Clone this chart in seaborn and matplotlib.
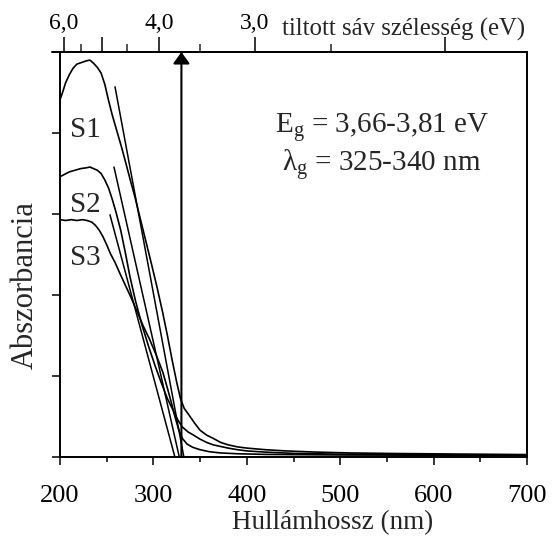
import numpy as np
import pandas as pd
import matplotlib
matplotlib.use("Agg")
import matplotlib.pyplot as plt
import seaborn as sns
from matplotlib.ticker import FixedLocator, FixedFormatter, MultipleLocator, NullFormatter

# ---------------- data ----------------
s1_wl = [200, 203, 206, 210, 214, 218, 223, 228, 232, 236, 240, 244, 248, 252, 256, 261, 266, 270,
         275, 280, 286, 292, 298, 304, 310, 315, 320, 325, 329, 333, 338, 344, 350, 357, 364, 372,
         380, 390, 400, 420, 440, 470, 510, 560, 620, 700]
s1_abs = [4.41, 4.51, 4.62, 4.72, 4.80, 4.85, 4.87, 4.89, 4.90, 4.86, 4.81, 4.74, 4.60, 4.40, 4.22,
          4.02, 3.82, 3.65, 3.43, 3.22, 2.94, 2.66, 2.38, 2.09, 1.78, 1.50, 1.20, 0.92, 0.72, 0.60,
          0.52, 0.42, 0.33, 0.27, 0.23, 0.18, 0.15, 0.125, 0.11, 0.09, 0.076, 0.062, 0.05, 0.043,
          0.037, 0.03]

s2_wl = [200, 205, 210, 216, 222, 228, 232, 236, 240, 244, 248, 252, 256, 260, 265, 270, 275, 281,
         288, 295, 302, 309, 315, 321, 326, 331, 337, 343, 350, 357, 364, 372, 380, 390, 400, 420,
         450, 500, 600, 700]
s2_abs = [3.46, 3.49, 3.52, 3.54, 3.56, 3.57, 3.58, 3.56, 3.54, 3.50, 3.42, 3.32, 3.18, 3.02, 2.80,
          2.52, 2.22, 1.92, 1.62, 1.36, 1.12, 0.90, 0.72, 0.58, 0.46, 0.37, 0.31, 0.27, 0.22, 0.18,
          0.15, 0.13, 0.11, 0.09, 0.075, 0.06, 0.045, 0.035, 0.028, 0.022]

s3_wl = [200, 206, 212, 218, 224, 229, 234, 238, 242, 246, 250, 254, 259, 264, 270, 276, 282, 289,
         296, 303, 310, 315, 319, 323, 327, 331, 336, 342, 350, 360, 372, 390, 420, 500, 600, 700]
s3_abs = [2.93, 2.92, 2.93, 2.92, 2.93, 2.92, 2.90, 2.86, 2.80, 2.72, 2.62, 2.51, 2.40, 2.27, 2.12,
          1.97, 1.81, 1.62, 1.45, 1.26, 1.05, 0.85, 0.68, 0.50, 0.34, 0.23, 0.16, 0.12, 0.09, 0.065,
          0.05, 0.04, 0.032, 0.025, 0.022, 0.02]

series_names = ["S1", "S2", "S3"]
tangent_wl_start = [258.9, 257.8, 253.5]
tangent_abs_start = [4.57, 3.58, 2.99]
tangent_wl_end = [332.6, 327.7, 323.0]
gap_wavelength = 330

energy_major = [6.0, 5.0, 4.0, 3.0, 2.0]
energy_labels = ["6,0", "", "4,0", "3,0", ""]
energy_minor = [5.5, 4.5, 3.5, 2.5]
HC = 1225.0

x_ticks = [200, 300, 400, 500, 600, 700]

# ---------------- style ----------------
sns.set_theme(style="ticks")
plt.rcParams["font.family"] = ["Liberation Serif", "DejaVu Serif"]
plt.rcParams["mathtext.fontset"] = "custom"
plt.rcParams["mathtext.rm"] = "Liberation Serif"
plt.rcParams["mathtext.it"] = "Liberation Serif:italic"

fig = plt.figure(figsize=(5.52, 5.42), dpi=100)
ax = fig.add_axes([60 / 552, 85 / 542, 467 / 552, 405 / 542])

frames = []
for name, wl, ab in zip(series_names, [s1_wl, s2_wl, s3_wl], [s1_abs, s2_abs, s3_abs]):
    frames.append(pd.DataFrame({"wl": wl, "abs": ab, "sample": name}))
df = pd.concat(frames, ignore_index=True)

for name in series_names:
    sub = df[df["sample"] == name]
    sns.lineplot(data=sub, x="wl", y="abs", ax=ax, color="black", lw=1.2,
                 estimator=None, sort=False, legend=False)

for w0, a0, w1 in zip(tangent_wl_start, tangent_abs_start, tangent_wl_end):
    sns.lineplot(x=[w0, w1], y=[a0, 0.0], ax=ax, color="black", lw=1.1,
                 estimator=None, sort=False, legend=False)

ax.set_xlim(200, 700)
ax.set_ylim(0, 5)

ax.annotate("", xy=(gap_wavelength, 5), xytext=(gap_wavelength, 0),
            arrowprops=dict(arrowstyle="-|>,head_length=0.35,head_width=0.25",
                            color="black", lw=1.5, mutation_scale=20,
                            shrinkA=0, shrinkB=0))

# labels for samples
label_pos = {"S1": (210.7, 3.95), "S2": (210.7, 3.02), "S3": (210.7, 2.37)}
for name in series_names:
    x, y = label_pos[name]
    ax.text(x, y, name, fontsize=21, ha="left", va="baseline")

ax.text(544.8, 4.0, r"$\mathregular{E_g}$ = 3,66-3,81 eV", fontsize=21, ha="center", va="baseline")
ax.text(544.8, 3.52, r"$\mathregular{λ_g}$ = 325-340 nm", fontsize=21, ha="center", va="baseline")

# axes formatting
for sp in ax.spines.values():
    sp.set_linewidth(1.4)
    sp.set_color("black")
ax.plot([-0.018, 0], [1, 1], transform=ax.transAxes, clip_on=False, lw=1.4, color="black")
ax.set_xticks(x_ticks)
ax.xaxis.set_minor_locator(MultipleLocator(50))
ax.set_yticks([0, 1, 2, 3, 4, 5])
ax.set_yticklabels([])
ax.tick_params(axis="x", which="major", direction="out", length=6, width=1.1,
               labelsize=19, pad=14.5, top=False, colors="black")
ax.tick_params(axis="x", which="minor", direction="out", length=3.6, width=1.1,
               top=False, bottom=True, colors="black")
ax.tick_params(axis="y", which="major", direction="out", length=6, width=1.1,
               right=False, colors="black")
ax.set_xlabel("Hullámhossz (nm)", fontsize=19.5)
ax.xaxis.set_label_coords((333 - 60) / 467, -53 / 405)
ax.set_ylabel("Abszorbancia", fontsize=22)
ax.yaxis.set_label_coords(-20 / 467, (457 - 285) / 405)


def fwd(x):
    x = np.asarray(x, dtype=float)
    with np.errstate(divide="ignore"):
        return HC / x


sec = ax.secondary_xaxis("top", functions=(fwd, fwd))
sec.xaxis.set_major_locator(FixedLocator(energy_major))
sec.xaxis.set_major_formatter(FixedFormatter(energy_labels))
sec.xaxis.set_minor_locator(FixedLocator(energy_minor))
sec.xaxis.set_minor_formatter(NullFormatter())
sec.tick_params(axis="x", which="major", direction="out", length=11, width=1.1,
                labelsize=17, pad=2, colors="black")
sec.tick_params(axis="x", which="minor", direction="out", length=6, width=1.1)
sec.spines["top"].set_linewidth(1.4)

fig.text(282 / 552, 1 - 36 / 542, "tiltott sáv szélesség (eV)", fontsize=17.8,
         ha="left", va="baseline")

fig.savefig("out.png", dpi=100, facecolor="white")
